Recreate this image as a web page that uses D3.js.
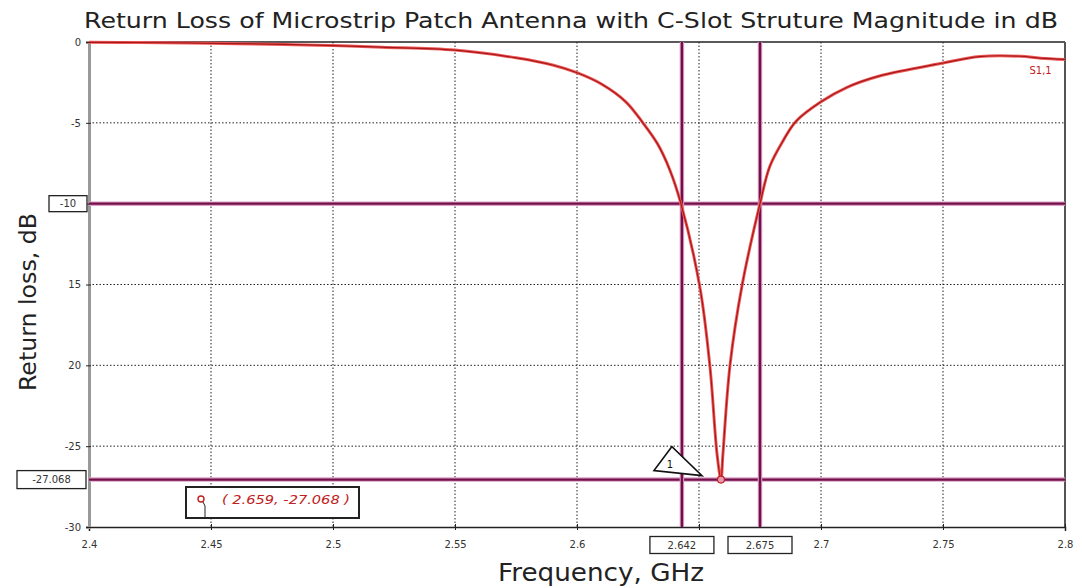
<!DOCTYPE html>
<html>
<head>
<meta charset="utf-8">
<script src="https://d3js.org/d3.v7.min.js"></script>
<style>
  body { margin:0; background:#fff; }
  text { font-family: "DejaVu Sans", Verdana, sans-serif; }
  .grid-line { stroke:#222; stroke-dasharray:1.5,2; stroke-width:1; }
  .tick-lbl { font-size:10px; fill:#333; }
  .mk-halo { stroke:#dca0cc; stroke-width:4.5; fill:none; }
  .mk-line { stroke:#731046; stroke-width:2.4; fill:none; }
</style>
</head>
<body>
<script>
// S1,1 magnitude (dB)
var freq = [2.40, 2.42, 2.45, 2.48, 2.50, 2.52, 2.55, 2.575, 2.59, 2.60, 2.61, 2.62, 2.627, 2.633, 2.638, 2.6426,
            2.6504, 2.6545, 2.6574, 2.659, 2.6598, 2.6627, 2.6676, 2.675, 2.679, 2.6845, 2.6898, 2.70, 2.7107, 2.724, 2.75,
            2.765, 2.7816, 2.79, 2.80];
var s11 = [-0.02, -0.03, -0.08, -0.15, -0.22, -0.32, -0.5, -0.98, -1.42, -1.9, -2.6, -3.7, -5.0, -6.3, -7.9, -10,
           -15.2, -20.1, -25.5, -27.068, -25.5, -20, -15.1, -10, -7.7, -6.1, -4.9, -3.7, -2.8, -2.1, -1.3,
           -0.9, -0.88, -1.0, -1.08];

var xTicks = [2.4, 2.45, 2.5, 2.55, 2.6, 2.65, 2.7, 2.75, 2.8];
var xTickLabels = ["2.4", "2.45", "2.5", "2.55", "2.6", "", "2.7", "2.75", "2.8"];
var yTicks = [0, -5, -10, -15, -20, -25, -30];
var yTickLabels = ["0", "-5", "", "15", "20", "-25", "-30"];

var markerFreqs = [2.643, 2.675];
var markerFreqLabels = ["2.642", "2.675"];
var markerLevels = [-10, -27.068];
var minPoint = {f: 2.659, db: -27.068};

var W = 1082, H = 588;
var margin = {top: 42, right: 17, bottom: 61, left: 89};
var width = W - margin.left - margin.right,
    height = H - margin.top - margin.bottom;

var svg = d3.select("body").append("svg")
    .attr("width", W).attr("height", H);
var g = svg.append("g").attr("transform", "translate(" + margin.left + "," + margin.top + ")");

var x = d3.scaleLinear().domain([2.4, 2.8]).range([0, width]);
var y = d3.scaleLinear().domain([0, -30]).range([0, height]);

// title
svg.append("text")
  .attr("x", 571).attr("y", 28)
  .attr("text-anchor", "middle")
  .style("font-size", "22px").style("fill", "#222")
  .attr("textLength", 974).attr("lengthAdjust", "spacingAndGlyphs")
  .text("Return Loss of Microstrip Patch Antenna with C-Slot Struture Magnitude in dB");

// grid
g.append("g").selectAll("line").data(xTicks.slice(1, -1)).enter().append("line")
  .attr("class", "grid-line")
  .attr("x1", d => x(d)).attr("x2", d => x(d))
  .attr("y1", 0).attr("y2", height);
g.append("g").selectAll("line").data(yTicks.slice(1, -1)).enter().append("line")
  .attr("class", "grid-line")
  .attr("x1", 0).attr("x2", width)
  .attr("y1", d => y(d)).attr("y2", d => y(d));

// frame
g.append("line").attr("x1", 0).attr("x2", width).attr("y1", 0).attr("y2", 0)
  .style("stroke", "#222").style("stroke-width", 1.5);
g.append("line").attr("x1", width).attr("x2", width).attr("y1", 0).attr("y2", height)
  .style("stroke", "#555").style("stroke-width", 2);

// axes
var xAxis = d3.axisBottom(x).tickValues(xTicks).tickSize(4)
  .tickFormat((d, i) => xTickLabels[i]);
var xAxisG = g.append("g").attr("transform", "translate(0," + height + ")").call(xAxis);
xAxisG.select(".domain").style("stroke", "#222").style("stroke-width", 1.5);
xAxisG.selectAll(".tick line").attr("y1", -3).attr("y2", 3).style("stroke", "#222");
xAxisG.selectAll(".tick text").attr("class", "tick-lbl").attr("dy", "1.4em")
  .style("font-family", "DejaVu Sans").style("font-size", "10px");

var yAxis = d3.axisLeft(y).tickValues(yTicks).tickSize(3)
  .tickFormat((d, i) => yTickLabels[i]);
var yAxisG = g.append("g").call(yAxis);
yAxisG.select(".domain").style("stroke", "#999").style("stroke-width", 3);
yAxisG.selectAll(".tick line").attr("x1", -3).attr("x2", 2).style("stroke", "#222");
yAxisG.selectAll(".tick text").attr("class", "tick-lbl").attr("dx", "-0.2em")
  .style("font-family", "DejaVu Sans").style("font-size", "10px");

// axis titles
svg.append("text")
  .attr("x", 601).attr("y", 581).attr("text-anchor", "middle")
  .style("font-size", "24px").style("fill", "#222")
  .attr("textLength", 206).attr("lengthAdjust", "spacingAndGlyphs")
  .text("Frequency, GHz");
svg.append("text")
  .attr("transform", "translate(36,302) rotate(-90)")
  .attr("text-anchor", "middle")
  .style("font-size", "23px").style("fill", "#222")
  .attr("textLength", 178).attr("lengthAdjust", "spacingAndGlyphs")
  .text("Return loss, dB");

// marker lines
var mk = g.append("g");
markerLevels.forEach(function(v) {
  ["mk-halo", "mk-line"].forEach(function(c) {
    mk.append("line").attr("class", c)
      .attr("x1", 0).attr("x2", width).attr("y1", y(v)).attr("y2", y(v));
  });
});
markerFreqs.forEach(function(f) {
  ["mk-halo", "mk-line"].forEach(function(c) {
    mk.append("line").attr("class", c)
      .attr("x1", x(f)).attr("x2", x(f)).attr("y1", 0).attr("y2", height);
  });
});

// curve
var data = freq.map((f, i) => ({f: f, db: s11[i]}));
var line = d3.line().x(d => x(d.f)).y(d => y(d.db)).curve(d3.curveCatmullRom.alpha(0.5));
g.append("path").datum(data)
  .attr("d", line)
  .style("fill", "none").style("stroke", "#ee5a5a").style("stroke-width", 3);
g.append("path").datum(data)
  .attr("d", line)
  .style("fill", "none").style("stroke", "#a81818").style("stroke-width", 1.2);

g.append("text")
  .attr("x", x(2.79)).attr("y", y(-2.0))
  .attr("text-anchor", "middle")
  .style("font-size", "10px").style("fill", "#c02020")
  .text("S1,1");

// min marker
var mx = x(minPoint.f), my = y(minPoint.db);
g.append("circle")
  .attr("cx", mx).attr("cy", my).attr("r", 3.5)
  .style("fill", "#e89ab0").style("stroke", "#c02020").style("stroke-width", 1.2);

// triangle marker "1"
g.append("path")
  .attr("d", "M" + (mx - 49) + "," + (my - 33) + "L" + (mx - 67) + "," + (my - 9) + "L" + (mx - 19) + "," + (my - 4) + "Z")
  .style("fill", "#fff").style("stroke", "#111").style("stroke-width", 1.6);
g.append("text")
  .attr("x", mx - 51).attr("y", my - 12)
  .attr("text-anchor", "middle")
  .style("font-size", "10px").style("fill", "#111")
  .text("1");

// value boxes on axes
function valueBox(cx, cy, w, h, label, anchor) {
  var bx = anchor === "end" ? cx - w : cx - w / 2;
  g.append("rect")
    .attr("x", bx).attr("y", cy - h / 2).attr("width", w).attr("height", h)
    .style("fill", "#fff").style("stroke", "#222").style("stroke-width", 1.3);
  g.append("text")
    .attr("x", bx + w / 2).attr("y", cy + 3.5)
    .attr("text-anchor", "middle")
    .style("font-size", "10px").style("fill", "#333")
    .text(label);
}
valueBox(-2, y(markerLevels[0]), 38, 16, String(markerLevels[0]), "end");
valueBox(-3, y(markerLevels[1]), 69, 18, String(markerLevels[1]), "end");
valueBox(x(markerFreqs[0]), height + 18, 64, 17, markerFreqLabels[0]);
valueBox(x(markerFreqs[1]), height + 18, 64, 17, markerFreqLabels[1]);

// readout box
var rb = {x: 97, y: 445, w: 173, h: 31};
g.append("rect")
  .attr("x", rb.x).attr("y", rb.y).attr("width", rb.w).attr("height", rb.h)
  .style("fill", "#fff").style("stroke", "#222").style("stroke-width", 2);
g.append("circle")
  .attr("cx", rb.x + 15).attr("cy", rb.y + 12).attr("r", 3)
  .style("fill", "#fff").style("stroke", "#c02020").style("stroke-width", 1.4);
g.append("path")
  .attr("d", "M" + (rb.x + 17) + "," + (rb.y + 15) + "L" + (rb.x + 19) + "," + (rb.y + 19) + "L" + (rb.x + 19) + "," + (rb.y + 31))
  .style("fill", "none").style("stroke", "#222").style("stroke-width", 1);
g.append("text")
  .attr("x", rb.x + 36).attr("y", rb.y + 17)
  .style("font-size", "12px").style("font-style", "italic").style("fill", "#c02020")
  .attr("textLength", 128).attr("lengthAdjust", "spacingAndGlyphs")
  .text("( " + minPoint.f + ", " + minPoint.db + " )");
</script>
</body>
</html>
